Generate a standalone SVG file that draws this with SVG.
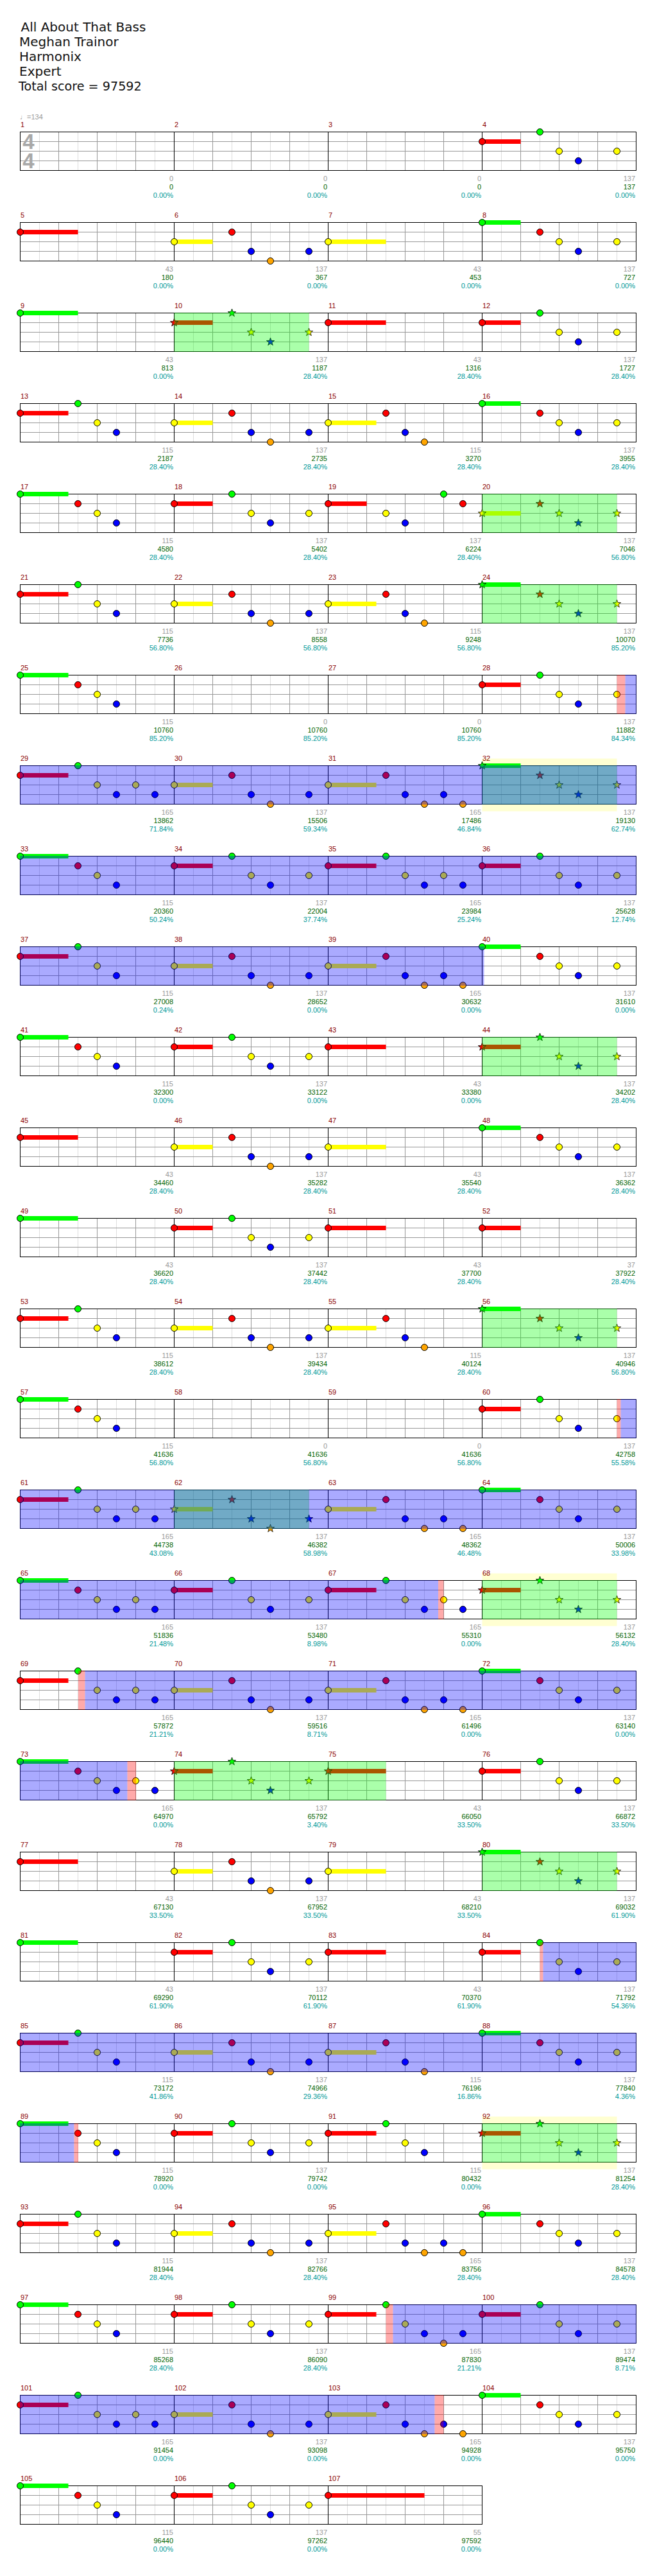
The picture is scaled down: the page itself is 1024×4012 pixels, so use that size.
<svg xmlns="http://www.w3.org/2000/svg" xmlns:xlink="http://www.w3.org/1999/xlink" width="1024" height="4012" viewBox="0 0 1024 4012">
<style>
text{font-family:"Liberation Sans",Arial,"DejaVu Sans",sans-serif;font-size:11px}
.ti{font-family:"DejaVu Sans",Verdana,sans-serif;font-size:20px;fill:#111}
.mn{fill:#8b0000}
.st text{text-anchor:end}
.a{fill:#999}.b{fill:#006400}.c{fill:#009999}
.g{fill:#00ff00}.r{fill:#ff0000}.y{fill:#ffff00}.u{fill:#0000ff}.o{fill:#ffa500}
.og{fill:#00ff00;fill-opacity:.333}.ob{fill:#0000ff;fill-opacity:.333}.op{fill:#ff0000;fill-opacity:.333}
.hl{fill:#ffffd2}
.ts{font-family:"Liberation Sans",Arial,sans-serif;font-weight:bold;font-size:33px;fill:#a8a8a8;text-anchor:middle}
</style>
<defs>
<circle id="c" r="5" stroke="#000"/>
<polygon id="s" points="0,-6.5 1.53,-2.1 6.18,-2 2.47,0.8 3.82,5.26 0,2.6 -3.82,5.26 -2.47,0.8 -6.18,-2 -1.53,-2.1" stroke="#000" stroke-width=".8"/>
<g id="mg"><path d="M30 0V60M90 0V60M150 0V60M210 0V60" stroke="#ddd"/><path d="M60 0V60M120 0V60M180 0V60" stroke="#999"/></g>
<g id="staff4"><rect width="960" height="60" fill="#fff"/><use href="#mg"/><use href="#mg" x="240"/><use href="#mg" x="480"/><use href="#mg" x="720"/><path d="M0 15H960M0 30H960M0 45H960" stroke="#999"/><path d="M240 0V60M480 0V60M720 0V60" stroke="#000"/><rect width="960" height="60" fill="none" stroke="#000"/></g>
<g id="staff3"><rect width="720" height="60" fill="#fff"/><use href="#mg"/><use href="#mg" x="240"/><use href="#mg" x="480"/><path d="M0 15H720M0 30H720M0 45H720" stroke="#999"/><path d="M240 0V60M480 0V60" stroke="#000"/><rect width="720" height="60" fill="none" stroke="#000"/></g>
<g id="P1"><rect y="11.5" width="75" height="7" class="r"/><use href="#c" class="r" y="15"/><use href="#c" class="g" x="90"/><use href="#c" class="y" x="120" y="30"/><use href="#c" class="u" x="150" y="45"/></g>
<g id="P2"><rect y="-3.5" width="75" height="7" class="g"/><use href="#c" class="g"/><use href="#c" class="r" x="90" y="15"/><use href="#c" class="y" x="120" y="30"/><use href="#c" class="u" x="150" y="45"/></g>
<g id="P3"><rect y="26.5" width="60" height="7" class="y"/><use href="#c" class="y" y="30"/><use href="#c" class="r" x="90" y="15"/><use href="#c" class="u" x="120" y="45"/><use href="#c" class="o" x="150" y="60"/><use href="#c" class="u" x="210" y="45"/></g>
<g id="P4"><rect y="26.5" width="75" height="7" class="y"/><use href="#c" class="y" y="30"/><use href="#c" class="r" x="90" y="15"/><use href="#c" class="u" x="120" y="45"/><use href="#c" class="o" x="150" y="60"/></g>
<g id="P5"><rect y="-3.5" width="60" height="7" class="g"/><use href="#c" class="g"/><use href="#c" class="r" x="90" y="15"/><use href="#c" class="y" x="120" y="30"/><use href="#c" class="u" x="150" y="45"/><use href="#c" class="y" x="210" y="30"/></g>
<g id="P6"><rect y="11.5" width="60" height="7" class="r"/><use href="#c" class="r" y="15"/><use href="#c" class="g" x="90"/><use href="#c" class="y" x="120" y="30"/><use href="#c" class="u" x="150" y="45"/><use href="#c" class="y" x="210" y="30"/></g>
<g id="P7"><rect y="11.5" width="60" height="7" class="r"/><use href="#c" class="r" y="15"/><use href="#c" class="y" x="90" y="30"/><use href="#c" class="u" x="120" y="45"/><use href="#c" class="g" x="180"/><use href="#c" class="r" x="210" y="15"/></g>
<g id="P8"><rect y="11.5" width="60" height="7" class="r"/><use href="#s" class="r" y="15"/><use href="#s" class="g" x="90"/><use href="#s" class="y" x="120" y="30"/><use href="#s" class="u" x="150" y="45"/><use href="#s" class="y" x="210" y="30"/></g>
<g id="P9"><rect y="26.5" width="60" height="7" class="y"/><use href="#s" class="y" y="30"/><use href="#s" class="r" x="90" y="15"/><use href="#s" class="y" x="120" y="30"/><use href="#s" class="u" x="150" y="45"/><use href="#s" class="y" x="210" y="30"/></g>
<g id="P10"><rect y="-3.5" width="60" height="7" class="g"/><use href="#s" class="g"/><use href="#s" class="r" x="90" y="15"/><use href="#s" class="y" x="120" y="30"/><use href="#s" class="u" x="150" y="45"/><use href="#s" class="y" x="210" y="30"/></g>
<g id="P11"><rect y="26.5" width="60" height="7" class="y"/><use href="#s" class="y" y="30"/><use href="#s" class="r" x="90" y="15"/><use href="#s" class="u" x="120" y="45"/><use href="#s" class="o" x="150" y="60"/><use href="#s" class="u" x="210" y="45"/></g>
<g id="P12"><rect y="11.5" width="75" height="7" class="r"/><use href="#c" class="r" y="15"/><use href="#c" class="g" x="90"/><use href="#c" class="y" x="120" y="30"/><use href="#c" class="u" x="150" y="45"/><use href="#c" class="y" x="180" y="30"/><use href="#c" class="u" x="210" y="45"/></g>
<g id="P13"><rect y="26.5" width="75" height="7" class="y"/><use href="#c" class="y" y="30"/><use href="#c" class="r" x="90" y="15"/><use href="#c" class="u" x="120" y="45"/><use href="#c" class="o" x="150" y="60"/><use href="#c" class="u" x="180" y="45"/><use href="#c" class="o" x="210" y="60"/></g>
<g id="P14"><rect y="-3.5" width="75" height="7" class="g"/><use href="#c" class="g"/><use href="#c" class="r" x="90" y="15"/><use href="#c" class="y" x="120" y="30"/><use href="#c" class="u" x="150" y="45"/><use href="#c" class="y" x="180" y="30"/><use href="#c" class="u" x="210" y="45"/></g>
<g id="P17"><rect y="11.5" width="75" height="7" class="r"/><use href="#c" class="r" y="15"/><use href="#c" class="g" x="90"/><use href="#c" class="y" x="120" y="30"/><use href="#c" class="u" x="150" y="45"/><use href="#c" class="o" x="180" y="60"/><use href="#c" class="u" x="210" y="45"/></g>
<g id="QG"><rect y="-3.5" width="90" height="7" class="g"/><use href="#c" class="g"/></g>
<g id="QR"><rect y="11.5" width="90" height="7" class="r"/><use href="#c" class="r" y="15"/></g>
<g id="QY"><rect y="26.5" width="90" height="7" class="y"/><use href="#c" class="y" y="30"/></g>
<g id="QR6"><rect y="11.5" width="60" height="7" class="r"/><use href="#c" class="r" y="15"/></g>
<g id="QRs"><rect y="11.5" width="90" height="7" class="r"/><use href="#s" class="r" y="15"/></g>
<g id="QR15"><rect y="11.5" width="150" height="7" class="r"/><use href="#c" class="r" y="15"/></g>
</defs>
<rect width="1024" height="4012" fill="#fff"/>
<g id="header">
<text class="ti" x="32.5" y="49">All About That Bass</text>
<text class="ti" x="30" y="72">Meghan Trainor</text>
<text class="ti" x="30" y="95">Harmonix</text>
<text class="ti" x="30" y="118">Expert</text>
<text class="ti" x="29" y="141" style="font-size:19.2px">Total score = 97592</text>
</g>
<g id="row1" transform="translate(31.5,205.5)">
<use href="#staff4"/>
<text x="-0.5" y="-19.5" fill="#999">♩=134</text>
<text class="ts" x="13" y="26.5">4</text><text class="ts" x="13" y="56.5">4</text>
<use href="#P6" x="720"/>
<text class="mn" y="-7.5"><tspan x="0.5">1</tspan><tspan x="240.5">2</tspan><tspan x="480.5">3</tspan><tspan x="720.5">4</tspan></text>
<g class="st">
<text x="238.5" y="76.5"><tspan class="a">0</tspan><tspan class="b" x="238.5" dy="13">0</tspan><tspan class="c" x="238.5" dy="13">0.00%</tspan></text>
<text x="478.5" y="76.5"><tspan class="a">0</tspan><tspan class="b" x="478.5" dy="13">0</tspan><tspan class="c" x="478.5" dy="13">0.00%</tspan></text>
<text x="718.5" y="76.5"><tspan class="a">0</tspan><tspan class="b" x="718.5" dy="13">0</tspan><tspan class="c" x="718.5" dy="13">0.00%</tspan></text>
<text x="958.5" y="76.5"><tspan class="a">137</tspan><tspan class="b" x="958.5" dy="13">137</tspan><tspan class="c" x="958.5" dy="13">0.00%</tspan></text>
</g></g>
<g id="row2" transform="translate(31.5,346.5)">
<use href="#staff4"/>
<use href="#QR"/><use href="#P3" x="240"/><use href="#QY" x="480"/><use href="#P5" x="720"/>
<text class="mn" y="-7.5"><tspan x="0.5">5</tspan><tspan x="240.5">6</tspan><tspan x="480.5">7</tspan><tspan x="720.5">8</tspan></text>
<g class="st">
<text x="238.5" y="76.5"><tspan class="a">43</tspan><tspan class="b" x="238.5" dy="13">180</tspan><tspan class="c" x="238.5" dy="13">0.00%</tspan></text>
<text x="478.5" y="76.5"><tspan class="a">137</tspan><tspan class="b" x="478.5" dy="13">367</tspan><tspan class="c" x="478.5" dy="13">0.00%</tspan></text>
<text x="718.5" y="76.5"><tspan class="a">43</tspan><tspan class="b" x="718.5" dy="13">453</tspan><tspan class="c" x="718.5" dy="13">0.00%</tspan></text>
<text x="958.5" y="76.5"><tspan class="a">137</tspan><tspan class="b" x="958.5" dy="13">727</tspan><tspan class="c" x="958.5" dy="13">0.00%</tspan></text>
</g></g>
<g id="row3" transform="translate(31.5,487.5)">
<use href="#staff4"/>
<use href="#QG"/><use href="#P8" x="240"/><use href="#QR" x="480"/><use href="#P6" x="720"/>
<rect class="og" x="240" y="-.5" width="210" height="61"/>
<text class="mn" y="-7.5"><tspan x="0.5">9</tspan><tspan x="240.5">10</tspan><tspan x="480.5">11</tspan><tspan x="720.5">12</tspan></text>
<g class="st">
<text x="238.5" y="76.5"><tspan class="a">43</tspan><tspan class="b" x="238.5" dy="13">813</tspan><tspan class="c" x="238.5" dy="13">0.00%</tspan></text>
<text x="478.5" y="76.5"><tspan class="a">137</tspan><tspan class="b" x="478.5" dy="13">1187</tspan><tspan class="c" x="478.5" dy="13">28.40%</tspan></text>
<text x="718.5" y="76.5"><tspan class="a">43</tspan><tspan class="b" x="718.5" dy="13">1316</tspan><tspan class="c" x="718.5" dy="13">28.40%</tspan></text>
<text x="958.5" y="76.5"><tspan class="a">137</tspan><tspan class="b" x="958.5" dy="13">1727</tspan><tspan class="c" x="958.5" dy="13">28.40%</tspan></text>
</g></g>
<g id="row4" transform="translate(31.5,628.5)">
<use href="#staff4"/>
<use href="#P1"/><use href="#P3" x="240"/><use href="#P4" x="480"/><use href="#P5" x="720"/>
<text class="mn" y="-7.5"><tspan x="0.5">13</tspan><tspan x="240.5">14</tspan><tspan x="480.5">15</tspan><tspan x="720.5">16</tspan></text>
<g class="st">
<text x="238.5" y="76.5"><tspan class="a">115</tspan><tspan class="b" x="238.5" dy="13">2187</tspan><tspan class="c" x="238.5" dy="13">28.40%</tspan></text>
<text x="478.5" y="76.5"><tspan class="a">137</tspan><tspan class="b" x="478.5" dy="13">2735</tspan><tspan class="c" x="478.5" dy="13">28.40%</tspan></text>
<text x="718.5" y="76.5"><tspan class="a">115</tspan><tspan class="b" x="718.5" dy="13">3270</tspan><tspan class="c" x="718.5" dy="13">28.40%</tspan></text>
<text x="958.5" y="76.5"><tspan class="a">137</tspan><tspan class="b" x="958.5" dy="13">3955</tspan><tspan class="c" x="958.5" dy="13">28.40%</tspan></text>
</g></g>
<g id="row5" transform="translate(31.5,769.5)">
<use href="#staff4"/>
<use href="#P2"/><use href="#P6" x="240"/><use href="#P7" x="480"/><use href="#P9" x="720"/>
<rect class="og" x="720" y="-.5" width="210" height="61"/>
<text class="mn" y="-7.5"><tspan x="0.5">17</tspan><tspan x="240.5">18</tspan><tspan x="480.5">19</tspan><tspan x="720.5">20</tspan></text>
<g class="st">
<text x="238.5" y="76.5"><tspan class="a">115</tspan><tspan class="b" x="238.5" dy="13">4580</tspan><tspan class="c" x="238.5" dy="13">28.40%</tspan></text>
<text x="478.5" y="76.5"><tspan class="a">137</tspan><tspan class="b" x="478.5" dy="13">5402</tspan><tspan class="c" x="478.5" dy="13">28.40%</tspan></text>
<text x="718.5" y="76.5"><tspan class="a">137</tspan><tspan class="b" x="718.5" dy="13">6224</tspan><tspan class="c" x="718.5" dy="13">28.40%</tspan></text>
<text x="958.5" y="76.5"><tspan class="a">137</tspan><tspan class="b" x="958.5" dy="13">7046</tspan><tspan class="c" x="958.5" dy="13">56.80%</tspan></text>
</g></g>
<g id="row6" transform="translate(31.5,910.5)">
<use href="#staff4"/>
<use href="#P1"/><use href="#P3" x="240"/><use href="#P4" x="480"/><use href="#P10" x="720"/>
<rect class="og" x="720" y="-.5" width="210" height="61"/>
<text class="mn" y="-7.5"><tspan x="0.5">21</tspan><tspan x="240.5">22</tspan><tspan x="480.5">23</tspan><tspan x="720.5">24</tspan></text>
<g class="st">
<text x="238.5" y="76.5"><tspan class="a">115</tspan><tspan class="b" x="238.5" dy="13">7736</tspan><tspan class="c" x="238.5" dy="13">56.80%</tspan></text>
<text x="478.5" y="76.5"><tspan class="a">137</tspan><tspan class="b" x="478.5" dy="13">8558</tspan><tspan class="c" x="478.5" dy="13">56.80%</tspan></text>
<text x="718.5" y="76.5"><tspan class="a">115</tspan><tspan class="b" x="718.5" dy="13">9248</tspan><tspan class="c" x="718.5" dy="13">56.80%</tspan></text>
<text x="958.5" y="76.5"><tspan class="a">137</tspan><tspan class="b" x="958.5" dy="13">10070</tspan><tspan class="c" x="958.5" dy="13">85.20%</tspan></text>
</g></g>
<g id="row7" transform="translate(31.5,1051.5)">
<use href="#staff4"/>
<use href="#P2"/><use href="#P6" x="720"/>
<rect class="op" x="930" y="-.5" width="13" height="61"/><rect class="ob" x="943" y="-.5" width="17.5" height="61"/>
<text class="mn" y="-7.5"><tspan x="0.5">25</tspan><tspan x="240.5">26</tspan><tspan x="480.5">27</tspan><tspan x="720.5">28</tspan></text>
<g class="st">
<text x="238.5" y="76.5"><tspan class="a">115</tspan><tspan class="b" x="238.5" dy="13">10760</tspan><tspan class="c" x="238.5" dy="13">85.20%</tspan></text>
<text x="478.5" y="76.5"><tspan class="a">0</tspan><tspan class="b" x="478.5" dy="13">10760</tspan><tspan class="c" x="478.5" dy="13">85.20%</tspan></text>
<text x="718.5" y="76.5"><tspan class="a">0</tspan><tspan class="b" x="718.5" dy="13">10760</tspan><tspan class="c" x="718.5" dy="13">85.20%</tspan></text>
<text x="958.5" y="76.5"><tspan class="a">137</tspan><tspan class="b" x="958.5" dy="13">11882</tspan><tspan class="c" x="958.5" dy="13">84.34%</tspan></text>
</g></g>
<g id="row8" transform="translate(31.5,1192.5)">
<rect class="hl" x="720" y="-11" width="210" height="82"/>
<use href="#staff4"/>
<use href="#P12"/><use href="#P3" x="240"/><use href="#P13" x="480"/><use href="#P10" x="720"/>
<rect class="og" x="720" y="-.5" width="210" height="61"/>
<rect class="ob" x="-.5" y="-.5" width="961" height="61"/>
<text class="mn" y="-7.5"><tspan x="0.5">29</tspan><tspan x="240.5">30</tspan><tspan x="480.5">31</tspan><tspan x="720.5">32</tspan></text>
<g class="st">
<text x="238.5" y="76.5"><tspan class="a">165</tspan><tspan class="b" x="238.5" dy="13">13862</tspan><tspan class="c" x="238.5" dy="13">71.84%</tspan></text>
<text x="478.5" y="76.5"><tspan class="a">137</tspan><tspan class="b" x="478.5" dy="13">15506</tspan><tspan class="c" x="478.5" dy="13">59.34%</tspan></text>
<text x="718.5" y="76.5"><tspan class="a">165</tspan><tspan class="b" x="718.5" dy="13">17486</tspan><tspan class="c" x="718.5" dy="13">46.84%</tspan></text>
<text x="958.5" y="76.5"><tspan class="a">137</tspan><tspan class="b" x="958.5" dy="13">19130</tspan><tspan class="c" x="958.5" dy="13">62.74%</tspan></text>
</g></g>
<g id="row9" transform="translate(31.5,1333.5)">
<use href="#staff4"/>
<use href="#P2"/><use href="#P6" x="240"/><use href="#P12" x="480"/><use href="#P6" x="720"/>
<rect class="ob" x="-.5" y="-.5" width="961" height="61"/>
<text class="mn" y="-7.5"><tspan x="0.5">33</tspan><tspan x="240.5">34</tspan><tspan x="480.5">35</tspan><tspan x="720.5">36</tspan></text>
<g class="st">
<text x="238.5" y="76.5"><tspan class="a">115</tspan><tspan class="b" x="238.5" dy="13">20360</tspan><tspan class="c" x="238.5" dy="13">50.24%</tspan></text>
<text x="478.5" y="76.5"><tspan class="a">137</tspan><tspan class="b" x="478.5" dy="13">22004</tspan><tspan class="c" x="478.5" dy="13">37.74%</tspan></text>
<text x="718.5" y="76.5"><tspan class="a">165</tspan><tspan class="b" x="718.5" dy="13">23984</tspan><tspan class="c" x="718.5" dy="13">25.24%</tspan></text>
<text x="958.5" y="76.5"><tspan class="a">137</tspan><tspan class="b" x="958.5" dy="13">25628</tspan><tspan class="c" x="958.5" dy="13">12.74%</tspan></text>
</g></g>
<g id="row10" transform="translate(31.5,1474.5)">
<use href="#staff4"/>
<use href="#P1"/><use href="#P3" x="240"/><use href="#P13" x="480"/><use href="#P5" x="720"/>
<rect class="ob" x="-.5" y="-.5" width="723.5" height="61"/>
<text class="mn" y="-7.5"><tspan x="0.5">37</tspan><tspan x="240.5">38</tspan><tspan x="480.5">39</tspan><tspan x="720.5">40</tspan></text>
<g class="st">
<text x="238.5" y="76.5"><tspan class="a">115</tspan><tspan class="b" x="238.5" dy="13">27008</tspan><tspan class="c" x="238.5" dy="13">0.24%</tspan></text>
<text x="478.5" y="76.5"><tspan class="a">137</tspan><tspan class="b" x="478.5" dy="13">28652</tspan><tspan class="c" x="478.5" dy="13">0.00%</tspan></text>
<text x="718.5" y="76.5"><tspan class="a">165</tspan><tspan class="b" x="718.5" dy="13">30632</tspan><tspan class="c" x="718.5" dy="13">0.00%</tspan></text>
<text x="958.5" y="76.5"><tspan class="a">137</tspan><tspan class="b" x="958.5" dy="13">31610</tspan><tspan class="c" x="958.5" dy="13">0.00%</tspan></text>
</g></g>
<g id="row11" transform="translate(31.5,1615.5)">
<use href="#staff4"/>
<use href="#P2"/><use href="#P6" x="240"/><use href="#QR" x="480"/><use href="#P8" x="720"/>
<rect class="og" x="720" y="-.5" width="210" height="61"/>
<text class="mn" y="-7.5"><tspan x="0.5">41</tspan><tspan x="240.5">42</tspan><tspan x="480.5">43</tspan><tspan x="720.5">44</tspan></text>
<g class="st">
<text x="238.5" y="76.5"><tspan class="a">115</tspan><tspan class="b" x="238.5" dy="13">32300</tspan><tspan class="c" x="238.5" dy="13">0.00%</tspan></text>
<text x="478.5" y="76.5"><tspan class="a">137</tspan><tspan class="b" x="478.5" dy="13">33122</tspan><tspan class="c" x="478.5" dy="13">0.00%</tspan></text>
<text x="718.5" y="76.5"><tspan class="a">43</tspan><tspan class="b" x="718.5" dy="13">33380</tspan><tspan class="c" x="718.5" dy="13">0.00%</tspan></text>
<text x="958.5" y="76.5"><tspan class="a">137</tspan><tspan class="b" x="958.5" dy="13">34202</tspan><tspan class="c" x="958.5" dy="13">28.40%</tspan></text>
</g></g>
<g id="row12" transform="translate(31.5,1756.5)">
<use href="#staff4"/>
<use href="#QR"/><use href="#P3" x="240"/><use href="#QY" x="480"/><use href="#P5" x="720"/>
<text class="mn" y="-7.5"><tspan x="0.5">45</tspan><tspan x="240.5">46</tspan><tspan x="480.5">47</tspan><tspan x="720.5">48</tspan></text>
<g class="st">
<text x="238.5" y="76.5"><tspan class="a">43</tspan><tspan class="b" x="238.5" dy="13">34460</tspan><tspan class="c" x="238.5" dy="13">28.40%</tspan></text>
<text x="478.5" y="76.5"><tspan class="a">137</tspan><tspan class="b" x="478.5" dy="13">35282</tspan><tspan class="c" x="478.5" dy="13">28.40%</tspan></text>
<text x="718.5" y="76.5"><tspan class="a">43</tspan><tspan class="b" x="718.5" dy="13">35540</tspan><tspan class="c" x="718.5" dy="13">28.40%</tspan></text>
<text x="958.5" y="76.5"><tspan class="a">137</tspan><tspan class="b" x="958.5" dy="13">36362</tspan><tspan class="c" x="958.5" dy="13">28.40%</tspan></text>
</g></g>
<g id="row13" transform="translate(31.5,1897.5)">
<use href="#staff4"/>
<use href="#QG"/><use href="#P6" x="240"/><use href="#QR" x="480"/><use href="#QR6" x="720"/>
<text class="mn" y="-7.5"><tspan x="0.5">49</tspan><tspan x="240.5">50</tspan><tspan x="480.5">51</tspan><tspan x="720.5">52</tspan></text>
<g class="st">
<text x="238.5" y="76.5"><tspan class="a">43</tspan><tspan class="b" x="238.5" dy="13">36620</tspan><tspan class="c" x="238.5" dy="13">28.40%</tspan></text>
<text x="478.5" y="76.5"><tspan class="a">137</tspan><tspan class="b" x="478.5" dy="13">37442</tspan><tspan class="c" x="478.5" dy="13">28.40%</tspan></text>
<text x="718.5" y="76.5"><tspan class="a">43</tspan><tspan class="b" x="718.5" dy="13">37700</tspan><tspan class="c" x="718.5" dy="13">28.40%</tspan></text>
<text x="958.5" y="76.5"><tspan class="a">37</tspan><tspan class="b" x="958.5" dy="13">37922</tspan><tspan class="c" x="958.5" dy="13">28.40%</tspan></text>
</g></g>
<g id="row14" transform="translate(31.5,2038.5)">
<use href="#staff4"/>
<use href="#P1"/><use href="#P3" x="240"/><use href="#P4" x="480"/><use href="#P10" x="720"/>
<rect class="og" x="720" y="-.5" width="210" height="61"/>
<text class="mn" y="-7.5"><tspan x="0.5">53</tspan><tspan x="240.5">54</tspan><tspan x="480.5">55</tspan><tspan x="720.5">56</tspan></text>
<g class="st">
<text x="238.5" y="76.5"><tspan class="a">115</tspan><tspan class="b" x="238.5" dy="13">38612</tspan><tspan class="c" x="238.5" dy="13">28.40%</tspan></text>
<text x="478.5" y="76.5"><tspan class="a">137</tspan><tspan class="b" x="478.5" dy="13">39434</tspan><tspan class="c" x="478.5" dy="13">28.40%</tspan></text>
<text x="718.5" y="76.5"><tspan class="a">115</tspan><tspan class="b" x="718.5" dy="13">40124</tspan><tspan class="c" x="718.5" dy="13">28.40%</tspan></text>
<text x="958.5" y="76.5"><tspan class="a">137</tspan><tspan class="b" x="958.5" dy="13">40946</tspan><tspan class="c" x="958.5" dy="13">56.80%</tspan></text>
</g></g>
<g id="row15" transform="translate(31.5,2179.5)">
<use href="#staff4"/>
<use href="#P2"/><use href="#P6" x="720"/>
<rect class="op" x="930" y="-.5" width="6" height="61"/><rect class="ob" x="936" y="-.5" width="24.5" height="61"/>
<text class="mn" y="-7.5"><tspan x="0.5">57</tspan><tspan x="240.5">58</tspan><tspan x="480.5">59</tspan><tspan x="720.5">60</tspan></text>
<g class="st">
<text x="238.5" y="76.5"><tspan class="a">115</tspan><tspan class="b" x="238.5" dy="13">41636</tspan><tspan class="c" x="238.5" dy="13">56.80%</tspan></text>
<text x="478.5" y="76.5"><tspan class="a">0</tspan><tspan class="b" x="478.5" dy="13">41636</tspan><tspan class="c" x="478.5" dy="13">56.80%</tspan></text>
<text x="718.5" y="76.5"><tspan class="a">0</tspan><tspan class="b" x="718.5" dy="13">41636</tspan><tspan class="c" x="718.5" dy="13">56.80%</tspan></text>
<text x="958.5" y="76.5"><tspan class="a">137</tspan><tspan class="b" x="958.5" dy="13">42758</tspan><tspan class="c" x="958.5" dy="13">55.58%</tspan></text>
</g></g>
<g id="row16" transform="translate(31.5,2320.5)">
<use href="#staff4"/>
<use href="#P12"/><use href="#P11" x="240"/><use href="#P13" x="480"/><use href="#P5" x="720"/>
<rect class="og" x="240" y="-.5" width="210" height="61"/>
<rect class="ob" x="-.5" y="-.5" width="961" height="61"/>
<text class="mn" y="-7.5"><tspan x="0.5">61</tspan><tspan x="240.5">62</tspan><tspan x="480.5">63</tspan><tspan x="720.5">64</tspan></text>
<g class="st">
<text x="238.5" y="76.5"><tspan class="a">165</tspan><tspan class="b" x="238.5" dy="13">44738</tspan><tspan class="c" x="238.5" dy="13">43.08%</tspan></text>
<text x="478.5" y="76.5"><tspan class="a">137</tspan><tspan class="b" x="478.5" dy="13">46382</tspan><tspan class="c" x="478.5" dy="13">58.98%</tspan></text>
<text x="718.5" y="76.5"><tspan class="a">165</tspan><tspan class="b" x="718.5" dy="13">48362</tspan><tspan class="c" x="718.5" dy="13">46.48%</tspan></text>
<text x="958.5" y="76.5"><tspan class="a">137</tspan><tspan class="b" x="958.5" dy="13">50006</tspan><tspan class="c" x="958.5" dy="13">33.98%</tspan></text>
</g></g>
<g id="row17" transform="translate(31.5,2461.5)">
<rect class="hl" x="720" y="-11" width="210" height="82"/>
<use href="#staff4"/>
<use href="#P14"/><use href="#P6" x="240"/><use href="#P12" x="480"/><use href="#P8" x="720"/>
<rect class="og" x="720" y="-.5" width="210" height="61"/>
<rect class="ob" x="-.5" y="-.5" width="652" height="61"/><rect class="op" x="651.5" y="-.5" width="8.5" height="61"/>
<text class="mn" y="-7.5"><tspan x="0.5">65</tspan><tspan x="240.5">66</tspan><tspan x="480.5">67</tspan><tspan x="720.5">68</tspan></text>
<g class="st">
<text x="238.5" y="76.5"><tspan class="a">165</tspan><tspan class="b" x="238.5" dy="13">51836</tspan><tspan class="c" x="238.5" dy="13">21.48%</tspan></text>
<text x="478.5" y="76.5"><tspan class="a">137</tspan><tspan class="b" x="478.5" dy="13">53480</tspan><tspan class="c" x="478.5" dy="13">8.98%</tspan></text>
<text x="718.5" y="76.5"><tspan class="a">165</tspan><tspan class="b" x="718.5" dy="13">55310</tspan><tspan class="c" x="718.5" dy="13">0.00%</tspan></text>
<text x="958.5" y="76.5"><tspan class="a">137</tspan><tspan class="b" x="958.5" dy="13">56132</tspan><tspan class="c" x="958.5" dy="13">28.40%</tspan></text>
</g></g>
<g id="row18" transform="translate(31.5,2602.5)">
<use href="#staff4"/>
<use href="#P12"/><use href="#P3" x="240"/><use href="#P13" x="480"/><use href="#P5" x="720"/>
<rect class="op" x="90.5" y="-.5" width="10.5" height="61"/><rect class="ob" x="101" y="-.5" width="859.5" height="61"/>
<text class="mn" y="-7.5"><tspan x="0.5">69</tspan><tspan x="240.5">70</tspan><tspan x="480.5">71</tspan><tspan x="720.5">72</tspan></text>
<g class="st">
<text x="238.5" y="76.5"><tspan class="a">165</tspan><tspan class="b" x="238.5" dy="13">57872</tspan><tspan class="c" x="238.5" dy="13">21.21%</tspan></text>
<text x="478.5" y="76.5"><tspan class="a">137</tspan><tspan class="b" x="478.5" dy="13">59516</tspan><tspan class="c" x="478.5" dy="13">8.71%</tspan></text>
<text x="718.5" y="76.5"><tspan class="a">165</tspan><tspan class="b" x="718.5" dy="13">61496</tspan><tspan class="c" x="718.5" dy="13">0.00%</tspan></text>
<text x="958.5" y="76.5"><tspan class="a">137</tspan><tspan class="b" x="958.5" dy="13">63140</tspan><tspan class="c" x="958.5" dy="13">0.00%</tspan></text>
</g></g>
<g id="row19" transform="translate(31.5,2743.5)">
<use href="#staff4"/>
<use href="#P14"/><use href="#P8" x="240"/><use href="#QRs" x="480"/><use href="#P6" x="720"/>
<rect class="og" x="240" y="-.5" width="330" height="61"/>
<rect class="ob" x="-.5" y="-.5" width="167.5" height="61"/><rect class="op" x="167" y="-.5" width="13.6" height="61"/>
<text class="mn" y="-7.5"><tspan x="0.5">73</tspan><tspan x="240.5">74</tspan><tspan x="480.5">75</tspan><tspan x="720.5">76</tspan></text>
<g class="st">
<text x="238.5" y="76.5"><tspan class="a">165</tspan><tspan class="b" x="238.5" dy="13">64970</tspan><tspan class="c" x="238.5" dy="13">0.00%</tspan></text>
<text x="478.5" y="76.5"><tspan class="a">137</tspan><tspan class="b" x="478.5" dy="13">65792</tspan><tspan class="c" x="478.5" dy="13">3.40%</tspan></text>
<text x="718.5" y="76.5"><tspan class="a">43</tspan><tspan class="b" x="718.5" dy="13">66050</tspan><tspan class="c" x="718.5" dy="13">33.50%</tspan></text>
<text x="958.5" y="76.5"><tspan class="a">137</tspan><tspan class="b" x="958.5" dy="13">66872</tspan><tspan class="c" x="958.5" dy="13">33.50%</tspan></text>
</g></g>
<g id="row20" transform="translate(31.5,2884.5)">
<use href="#staff4"/>
<use href="#QR"/><use href="#P3" x="240"/><use href="#QY" x="480"/><use href="#P10" x="720"/>
<rect class="og" x="720" y="-.5" width="210" height="61"/>
<text class="mn" y="-7.5"><tspan x="0.5">77</tspan><tspan x="240.5">78</tspan><tspan x="480.5">79</tspan><tspan x="720.5">80</tspan></text>
<g class="st">
<text x="238.5" y="76.5"><tspan class="a">43</tspan><tspan class="b" x="238.5" dy="13">67130</tspan><tspan class="c" x="238.5" dy="13">33.50%</tspan></text>
<text x="478.5" y="76.5"><tspan class="a">137</tspan><tspan class="b" x="478.5" dy="13">67952</tspan><tspan class="c" x="478.5" dy="13">33.50%</tspan></text>
<text x="718.5" y="76.5"><tspan class="a">43</tspan><tspan class="b" x="718.5" dy="13">68210</tspan><tspan class="c" x="718.5" dy="13">33.50%</tspan></text>
<text x="958.5" y="76.5"><tspan class="a">137</tspan><tspan class="b" x="958.5" dy="13">69032</tspan><tspan class="c" x="958.5" dy="13">61.90%</tspan></text>
</g></g>
<g id="row21" transform="translate(31.5,3025.5)">
<use href="#staff4"/>
<use href="#QG"/><use href="#P6" x="240"/><use href="#QR" x="480"/><use href="#P6" x="720"/>
<rect class="op" x="810" y="-.5" width="5" height="61"/><rect class="ob" x="815" y="-.5" width="145.5" height="61"/>
<text class="mn" y="-7.5"><tspan x="0.5">81</tspan><tspan x="240.5">82</tspan><tspan x="480.5">83</tspan><tspan x="720.5">84</tspan></text>
<g class="st">
<text x="238.5" y="76.5"><tspan class="a">43</tspan><tspan class="b" x="238.5" dy="13">69290</tspan><tspan class="c" x="238.5" dy="13">61.90%</tspan></text>
<text x="478.5" y="76.5"><tspan class="a">137</tspan><tspan class="b" x="478.5" dy="13">70112</tspan><tspan class="c" x="478.5" dy="13">61.90%</tspan></text>
<text x="718.5" y="76.5"><tspan class="a">43</tspan><tspan class="b" x="718.5" dy="13">70370</tspan><tspan class="c" x="718.5" dy="13">61.90%</tspan></text>
<text x="958.5" y="76.5"><tspan class="a">137</tspan><tspan class="b" x="958.5" dy="13">71792</tspan><tspan class="c" x="958.5" dy="13">54.36%</tspan></text>
</g></g>
<g id="row22" transform="translate(31.5,3166.5)">
<use href="#staff4"/>
<use href="#P1"/><use href="#P3" x="240"/><use href="#P4" x="480"/><use href="#P5" x="720"/>
<rect class="ob" x="-.5" y="-.5" width="961" height="61"/>
<text class="mn" y="-7.5"><tspan x="0.5">85</tspan><tspan x="240.5">86</tspan><tspan x="480.5">87</tspan><tspan x="720.5">88</tspan></text>
<g class="st">
<text x="238.5" y="76.5"><tspan class="a">115</tspan><tspan class="b" x="238.5" dy="13">73172</tspan><tspan class="c" x="238.5" dy="13">41.86%</tspan></text>
<text x="478.5" y="76.5"><tspan class="a">137</tspan><tspan class="b" x="478.5" dy="13">74966</tspan><tspan class="c" x="478.5" dy="13">29.36%</tspan></text>
<text x="718.5" y="76.5"><tspan class="a">115</tspan><tspan class="b" x="718.5" dy="13">76196</tspan><tspan class="c" x="718.5" dy="13">16.86%</tspan></text>
<text x="958.5" y="76.5"><tspan class="a">137</tspan><tspan class="b" x="958.5" dy="13">77840</tspan><tspan class="c" x="958.5" dy="13">4.36%</tspan></text>
</g></g>
<g id="row23" transform="translate(31.5,3307.5)">
<rect class="hl" x="720" y="-11" width="210" height="82"/>
<use href="#staff4"/>
<use href="#P2"/><use href="#P6" x="240"/><use href="#P1" x="480"/><use href="#P8" x="720"/>
<rect class="og" x="720" y="-.5" width="210" height="61"/>
<rect class="ob" x="-.5" y="-.5" width="84.5" height="61"/><rect class="op" x="84" y="-.5" width="6.5" height="61"/>
<text class="mn" y="-7.5"><tspan x="0.5">89</tspan><tspan x="240.5">90</tspan><tspan x="480.5">91</tspan><tspan x="720.5">92</tspan></text>
<g class="st">
<text x="238.5" y="76.5"><tspan class="a">115</tspan><tspan class="b" x="238.5" dy="13">78920</tspan><tspan class="c" x="238.5" dy="13">0.00%</tspan></text>
<text x="478.5" y="76.5"><tspan class="a">137</tspan><tspan class="b" x="478.5" dy="13">79742</tspan><tspan class="c" x="478.5" dy="13">0.00%</tspan></text>
<text x="718.5" y="76.5"><tspan class="a">115</tspan><tspan class="b" x="718.5" dy="13">80432</tspan><tspan class="c" x="718.5" dy="13">0.00%</tspan></text>
<text x="958.5" y="76.5"><tspan class="a">137</tspan><tspan class="b" x="958.5" dy="13">81254</tspan><tspan class="c" x="958.5" dy="13">28.40%</tspan></text>
</g></g>
<g id="row24" transform="translate(31.5,3448.5)">
<use href="#staff4"/>
<use href="#P1"/><use href="#P3" x="240"/><use href="#P13" x="480"/><use href="#P5" x="720"/>
<text class="mn" y="-7.5"><tspan x="0.5">93</tspan><tspan x="240.5">94</tspan><tspan x="480.5">95</tspan><tspan x="720.5">96</tspan></text>
<g class="st">
<text x="238.5" y="76.5"><tspan class="a">115</tspan><tspan class="b" x="238.5" dy="13">81944</tspan><tspan class="c" x="238.5" dy="13">28.40%</tspan></text>
<text x="478.5" y="76.5"><tspan class="a">137</tspan><tspan class="b" x="478.5" dy="13">82766</tspan><tspan class="c" x="478.5" dy="13">28.40%</tspan></text>
<text x="718.5" y="76.5"><tspan class="a">165</tspan><tspan class="b" x="718.5" dy="13">83756</tspan><tspan class="c" x="718.5" dy="13">28.40%</tspan></text>
<text x="958.5" y="76.5"><tspan class="a">137</tspan><tspan class="b" x="958.5" dy="13">84578</tspan><tspan class="c" x="958.5" dy="13">28.40%</tspan></text>
</g></g>
<g id="row25" transform="translate(31.5,3589.5)">
<use href="#staff4"/>
<use href="#P2"/><use href="#P6" x="240"/><use href="#P17" x="480"/><use href="#P6" x="720"/>
<rect class="op" x="570" y="-.5" width="11" height="61"/><rect class="ob" x="581" y="-.5" width="379.5" height="61"/>
<text class="mn" y="-7.5"><tspan x="0.5">97</tspan><tspan x="240.5">98</tspan><tspan x="480.5">99</tspan><tspan x="720.5">100</tspan></text>
<g class="st">
<text x="238.5" y="76.5"><tspan class="a">115</tspan><tspan class="b" x="238.5" dy="13">85268</tspan><tspan class="c" x="238.5" dy="13">28.40%</tspan></text>
<text x="478.5" y="76.5"><tspan class="a">137</tspan><tspan class="b" x="478.5" dy="13">86090</tspan><tspan class="c" x="478.5" dy="13">28.40%</tspan></text>
<text x="718.5" y="76.5"><tspan class="a">165</tspan><tspan class="b" x="718.5" dy="13">87830</tspan><tspan class="c" x="718.5" dy="13">21.21%</tspan></text>
<text x="958.5" y="76.5"><tspan class="a">137</tspan><tspan class="b" x="958.5" dy="13">89474</tspan><tspan class="c" x="958.5" dy="13">8.71%</tspan></text>
</g></g>
<g id="row26" transform="translate(31.5,3730.5)">
<use href="#staff4"/>
<use href="#P12"/><use href="#P3" x="240"/><use href="#P13" x="480"/><use href="#P5" x="720"/>
<rect class="ob" x="-.5" y="-.5" width="646.5" height="61"/><rect class="op" x="646" y="-.5" width="14" height="61"/>
<text class="mn" y="-7.5"><tspan x="0.5">101</tspan><tspan x="240.5">102</tspan><tspan x="480.5">103</tspan><tspan x="720.5">104</tspan></text>
<g class="st">
<text x="238.5" y="76.5"><tspan class="a">165</tspan><tspan class="b" x="238.5" dy="13">91454</tspan><tspan class="c" x="238.5" dy="13">0.00%</tspan></text>
<text x="478.5" y="76.5"><tspan class="a">137</tspan><tspan class="b" x="478.5" dy="13">93098</tspan><tspan class="c" x="478.5" dy="13">0.00%</tspan></text>
<text x="718.5" y="76.5"><tspan class="a">165</tspan><tspan class="b" x="718.5" dy="13">94928</tspan><tspan class="c" x="718.5" dy="13">0.00%</tspan></text>
<text x="958.5" y="76.5"><tspan class="a">137</tspan><tspan class="b" x="958.5" dy="13">95750</tspan><tspan class="c" x="958.5" dy="13">0.00%</tspan></text>
</g></g>
<g id="row27" transform="translate(31.5,3871.5)">
<use href="#staff3"/>
<use href="#P2"/><use href="#P6" x="240"/><use href="#QR15" x="480"/>
<text class="mn" y="-7.5"><tspan x="0.5">105</tspan><tspan x="240.5">106</tspan><tspan x="480.5">107</tspan></text>
<g class="st">
<text x="238.5" y="76.5"><tspan class="a">115</tspan><tspan class="b" x="238.5" dy="13">96440</tspan><tspan class="c" x="238.5" dy="13">0.00%</tspan></text>
<text x="478.5" y="76.5"><tspan class="a">137</tspan><tspan class="b" x="478.5" dy="13">97262</tspan><tspan class="c" x="478.5" dy="13">0.00%</tspan></text>
<text x="718.5" y="76.5"><tspan class="a">55</tspan><tspan class="b" x="718.5" dy="13">97592</tspan><tspan class="c" x="718.5" dy="13">0.00%</tspan></text>
</g></g>
</svg>
